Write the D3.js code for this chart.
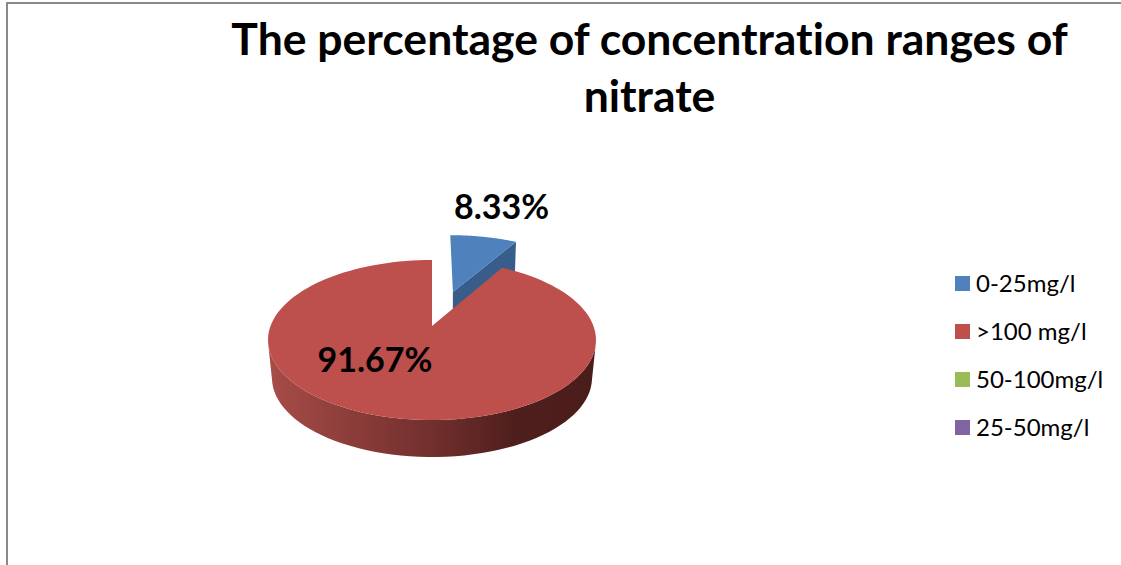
<!DOCTYPE html>
<html>
<head>
<meta charset="utf-8">
<script src="https://cdn.jsdelivr.net/npm/d3@7"></script>
<style>
  html, body { margin: 0; padding: 0; background: #fff; overflow: hidden; }
  text { font-family: Lato, "Open Sans", sans-serif; fill: #000; font-variant-ligatures: none; }
</style>
</head>
<body>
<div id="chart"></div>
<script>
const titleLines = ["The percentage of concentration ranges of", "nitrate"];
const categories = ["0-25mg/l", ">100 mg/l", "50-100mg/l", "25-50mg/l"];
const values = [8.33, 91.67, 0, 0];
const valueLabels = ["8.33%", "91.67%", "", ""];
const topColors = ["#4f81bd", "#bd4f4c", "#9bbb59", "#8064a2"];
const sideColors = ["#385d8a", "#6e2b29", "#9bbb59", "#8064a2"];

const width = 1121, height = 565;

const svg = d3.select("#chart").append("svg")
  .attr("width", width)
  .attr("height", height);

// chart frame, bottom and right run off the picture
svg.append("rect")
  .attr("x", 7).attr("y", 3)
  .attr("width", width + 20).attr("height", height + 20)
  .attr("fill", "none")
  .attr("stroke", "#8a8a8a")
  .attr("stroke-width", 2);

svg.selectAll(".title")
  .data(titleLines)
  .join("text")
  .attr("class", "title")
  .attr("x", 649.5)
  .attr("y", (d, i) => 55 + i * 57)
  .attr("text-anchor", "middle")
  .attr("font-size", 44.5)
  .attr("font-weight", 700)
  .text(d => d);

// top plane and bottom plane of the tilted disc
const topX = d3.scaleLinear().domain([-1, 1]).range([268, 596]);
const topY = d3.scaleLinear().domain([-1, 1]).range([260, 420]);
const botX = d3.scaleLinear().domain([-1, 1]).range([272, 592]);
const botY = d3.scaleLinear().domain([-1, 1]).range([299, 457]);

// perspective: pie centre sits above the centre of the ellipse
const k = -0.175;
function project(u, v) {
  const w = 1 + k * v;
  return [u * Math.sqrt(1 - k * k) / w, (v + k) / w];
}

const pie = d3.pie().sort(null).value(d => d)(values);
const explode = [0.49, 0, 0, 0];
const nudgeX = [2, 0, 0, 0];
const line = d3.line();

// disc coordinates of a slice outline, angle runs clockwise from the top
function discPoint(angle, r, e, mid) {
  return [r * Math.sin(angle) + e * Math.sin(mid), -r * Math.cos(angle) - e * Math.cos(mid)];
}
function rimAngles(s) {
  return d3.range(0, 121).map(i => s.startAngle + (s.endAngle - s.startAngle) * i / 120);
}

const grad = svg.append("defs").append("linearGradient")
  .attr("id", "wall")
  .attr("gradientUnits", "userSpaceOnUse")
  .attr("x1", topX(-1)).attr("x2", topX(1))
  .attr("y1", 0).attr("y2", 0);
grad.selectAll("stop")
  .data([[0, "#a84c48"], [0.25, "#8c3d3a"], [0.5, "#722f2d"], [0.75, "#4f1f1d"], [1, "#4a1c1a"]])
  .join("stop")
  .attr("offset", d => d[0])
  .attr("stop-color", d => d[1]);

// blue slice is drawn first, the red one overlaps its side
[0, 1].forEach(idx => {
  const s = pie[idx];
  const e = explode[idx];
  const dx = nudgeX[idx];
  const mid = (s.startAngle + s.endAngle) / 2;
  const angles = rimAngles(s);
  const apex = project(...discPoint(0, 0, e, mid));
  const rim = angles.map(a => project(...discPoint(a, 1, e, mid)));

  if (e > 0) {
    // cut face of the exploded slice, depth grows towards the rim
    const outer = rim[rim.length - 1];
    const face = [
      [topX(apex[0]) + dx, topY(apex[1])],
      [topX(outer[0]) + dx, topY(outer[1])],
      [topX(outer[0]) + dx - 1, topY(outer[1]) + 30],
      [topX(apex[0]) + dx, topY(apex[1]) + 20]
    ];
    svg.append("path")
      .attr("d", line(face) + "Z")
      .attr("fill", sideColors[idx]);
  } else {
    // outer wall, only the part in front of the widest line shows
    const front = angles
      .map(a => project(...discPoint(a, 1, e, mid)))
      .filter(p => p[1] >= 0);
    const wall = front.map(p => [topX(p[0]), topY(p[1])])
      .concat(front.slice().reverse().map(p => [botX(p[0]), botY(p[1])]));
    svg.append("path")
      .attr("d", line(wall) + "Z")
      .attr("fill", "url(#wall)");
  }

  const outline = [apex].concat(rim).map(p => [topX(p[0]) + dx, topY(p[1])]);
  svg.append("path")
    .attr("d", line(outline) + "Z")
    .attr("fill", topColors[idx]);
});

// value labels
const labelPos = [[501.5, 219], [375, 372]];
svg.selectAll(".value")
  .data(valueLabels.filter(d => d))
  .join("text")
  .attr("class", "value")
  .attr("x", (d, i) => labelPos[i][0])
  .attr("y", (d, i) => labelPos[i][1])
  .attr("text-anchor", "middle")
  .attr("font-size", 34)
  .attr("font-weight", 700)
  .text(d => d);

// legend
const legendY = d3.scalePoint().domain(categories).range([283.5, 427.5]);
const legend = svg.selectAll(".legend")
  .data(categories)
  .join("g")
  .attr("class", "legend")
  .attr("transform", d => `translate(955,${legendY(d)})`);
legend.append("rect")
  .attr("x", 0).attr("y", -7.5)
  .attr("width", 15).attr("height", 15)
  .attr("fill", (d, i) => topColors[i]);
legend.append("text")
  .attr("x", 21).attr("y", 8.5)
  .attr("font-size", 24)
  .text(d => d);
</script>
</body>
</html>
